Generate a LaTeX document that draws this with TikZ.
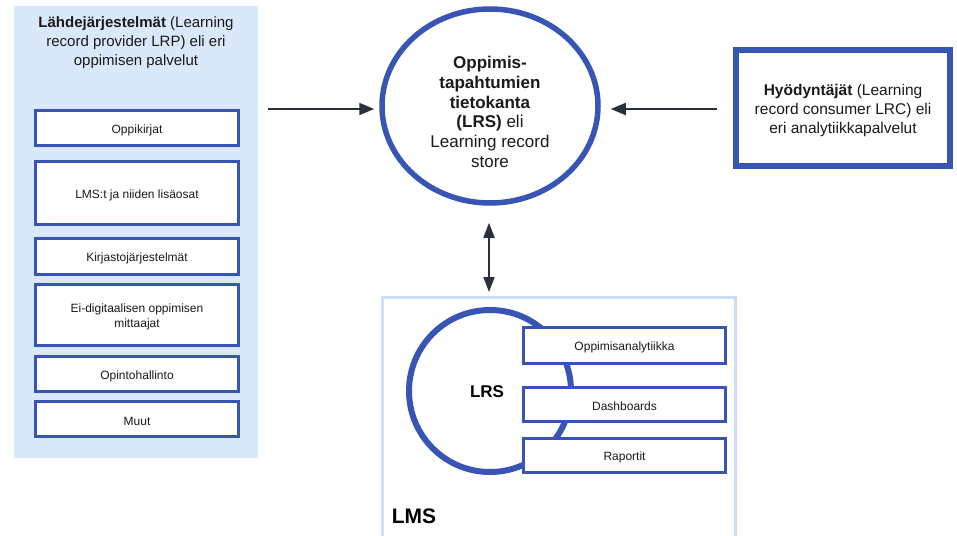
\documentclass[tikz,border=0pt]{standalone}
\usepackage{fontspec}
\setmainfont{Liberation Sans}
\usetikzlibrary{arrows.meta,shapes.geometric}
\definecolor{bblue}{RGB}{56,84,181}
\definecolor{lblue}{RGB}{218,232,252}
\definecolor{lbord}{RGB}{204,222,248}
\definecolor{txt}{RGB}{26,26,26}
\definecolor{arrc}{RGB}{43,48,60}
\tikzset{
  srcbox/.style={draw=bblue, line width=3pt, fill=white, minimum width=203pt, inner sep=0pt},
  anbox/.style={draw=bblue, line width=3pt, fill=white, minimum width=202pt, inner sep=0pt},
  btxt/.style={align=center, text=txt, inner sep=0pt, font=\fontsize{12}{14.5}\selectfont},
  arr/.style={-{Triangle[length=15pt,width=12pt]}, line width=1.8pt, draw=arrc},
  darr/.style={{Triangle[length=15pt,width=11pt]}-{Triangle[length=15pt,width=11pt]}, line width=1.8pt, draw=arrc}
}
\begin{document}
\begin{tikzpicture}[x=1pt,y=-1pt]
\useasboundingbox[fill=white] (0,0) rectangle (957,535);
% left panel
\node[fill=lblue, minimum width=244pt, minimum height=452pt, inner sep=0] (panel) at (136,232) {};
\node[align=center, text=txt, font=\fontsize{15}{19}\selectfont] (ptitle) at (136,43)
  {\textbf{Lähdejärjestelmät} (Learning\\record provider LRP) eli eri\\oppimisen palvelut};
\node[srcbox, minimum height=35pt] (b1) at (137,128) {};
\node[btxt] (t1) at ([yshift=-2pt]b1.center) {Oppikirjat};
\node[srcbox, minimum height=63pt] (b2) at (137,193) {};
\node[btxt] (t2) at ([yshift=-2pt]b2.center) {LMS:t ja niiden lisäosat};
\node[srcbox, minimum height=36pt] (b3) at (137,256.5) {};
\node[btxt] (t3) at ([yshift=-2pt]b3.center) {Kirjastojärjestelmät};
\node[srcbox, minimum height=61pt] (b4) at (137,315) {};
\node[btxt] (t4) at ([yshift=-2pt]b4.center) {Ei-digitaalisen oppimisen\\mittaajat};
\node[srcbox, minimum height=35pt] (b5) at (137,374) {};
\node[btxt] (t5) at ([yshift=-2pt]b5.center) {Opintohallinto};
\node[srcbox, minimum height=35pt] (b6) at (137,419) {};
\node[btxt] (t6) at ([yshift=-2pt]b6.center) {Muut};
% central LRS
\node[ellipse, draw=bblue, line width=5.5pt, fill=white, minimum width=216pt, minimum height=194pt,
  inner sep=0] (lrs) at (490,106) {};
\node[align=center, text=txt, inner sep=0, font=\fontsize{17}{19.7}\selectfont] (lrstxt) at (490,112)
  {\textbf{Oppimis-}\\\textbf{tapahtumien}\\\textbf{tietokanta}\\\textbf{(LRS)} eli\\Learning record\\store};
% consumers
\node[draw=bblue, line width=6pt, fill=white, minimum width=214pt, minimum height=116pt, inner sep=0] (cons) at (843,108) {};
\node[align=center, text=txt, inner sep=0, font=\fontsize{15.5}{18.8}\selectfont] (constxt) at (843,110.5)
  {\textbf{Hyödyntäjät} (Learning\\record consumer LRC) eli\\eri analytiikkapalvelut};
% LMS box
\node[draw=lbord, line width=3pt, fill=white, minimum width=353pt, minimum height=247.5pt, inner sep=0] (lms) at (559,421.25) {};
\node[draw=bblue, line width=6pt, fill=white, circle, minimum size=162pt, inner sep=0] (inlrs) at (490,391) {};
\node[font=\bfseries\fontsize{17}{20}\selectfont, text=black] (lrslab) at (487,392) {LRS};
\node[font=\bfseries\fontsize{21}{24}\selectfont, text=black] (lmslab) at (414,516) {LMS};
\node[anbox, minimum height=36pt] (a1) at (624.5,345.5) {};
\node[btxt] (u1) at ([yshift=-2pt]a1.center) {Oppimisanalytiikka};
\node[anbox, minimum height=34pt] (a2) at (624.5,404.5) {};
\node[btxt] (u2) at ([yshift=-2pt]a2.center) {Dashboards};
\node[anbox, minimum height=34pt] (a3) at (624.5,455.5) {};
\node[btxt] (u3) at ([yshift=-2pt]a3.center) {Raportit};
% arrows
\draw[arr] ([xshift=10pt,yshift=-3pt]panel.east |- lrs.west) -- ([xshift=-5pt,yshift=-3pt]lrs.west);
\draw[arr] ([xshift=-16pt,yshift=-3pt]cons.west |- lrs.east) -- ([xshift=10pt,yshift=-3pt]lrs.east);
\draw[darr] ([xshift=-1pt,yshift=-17pt]lrs.south) -- ([xshift=-1pt,yshift=4pt]lms.north -| lrs.south);
\end{tikzpicture}
\end{document}
